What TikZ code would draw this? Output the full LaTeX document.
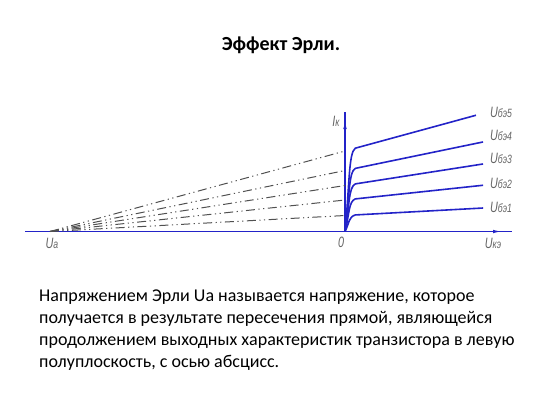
\documentclass[tikz,border=0pt]{standalone}
\usepackage{fontspec}
\setmainfont{Carlito}
\newfontfamily\lblfont{Liberation Sans}
\usetikzlibrary{calc,arrows.meta}

\definecolor{axisblue}{RGB}{35,35,200}
\definecolor{dashgray}{RGB}{80,80,80}
\definecolor{lblgray}{RGB}{100,100,100}

\newcommand{\sml}[1]{{\fontsize{12}{12}\selectfont #1}}

\tikzset{
  axis/.style={axisblue, line width=1.3pt},
  tip/.style={axisblue, line width=1.3pt, -{Latex[length=9pt,width=3.5pt]}},
  curve/.style={axisblue, line width=1.6pt},
  ext/.style={dashgray, line width=1pt, dash pattern=on 9pt off 3.5pt on 1.2pt off 3.5pt on 1.2pt off 3.5pt},
  lbl/.style={lblgray, font=\lblfont\itshape\fontsize{15}{15}\selectfont, inner sep=0pt, xscale=0.72},
  title/.style={font=\bfseries\fontsize{20}{20}\selectfont},
  body/.style={font=\fontsize{18}{22}\selectfont, align=left, inner sep=0pt}
}

\begin{document}
\begin{tikzpicture}[x=1pt,y=-1pt]
\useasboundingbox (0,0) rectangle (541,405);

%% title
\node[title] (head) at (281,45) {Эффект Эрли.};

%% axes
\coordinate (O) at (345,231.5);
\coordinate (Ua) at (50,231.5);
\coordinate (xstart) at (25,231.5);
\coordinate (xend) at (512,231.5);
\coordinate (xtip) at (502,231.5);
\coordinate (yend) at (345,112);
\coordinate (ytip) at (345,120);
\draw[axis] (xstart) -- (xend);
\draw[axis] (O) -- (yend);
\draw[tip] (O) -- (xtip);
\draw[tip] (O) -- (ytip);

\node[lbl] (ik) at (336,121) {I\sml{к}};
\node[lbl] (zero) at (341,242) {0};
\node[lbl] (uke) at (493,243) {U\sml{кэ}};
\node[lbl] (ua) at (52,243) {U\sml{a}};

%% output characteristics and their extensions
\foreach \n/\h/\k/\ly in {1/215.5/1.468/207, 2/200/1.468/183, 3/185.5/1.468/158, 4/170.5/1.468/135, 5/151/1.444/112}{
  \pgfmathsetmacro{\cy}{\h+0.45*(231.5-\h)}
  \coordinate (I\n) at (345,\h);
  \coordinate (F\n) at ($(Ua)!1.035!(I\n)$);
  \coordinate (E\n) at ($(Ua)!\k!(I\n)$);
  \draw[ext] (Ua) -- (I\n);
  \draw[curve] (O) .. controls (349.5,\cy) and (348.5,\h+1.5) .. (F\n) -- (E\n);
  \node[lbl, anchor=west] (u\n) at (490,\ly) {U\sml{бэ\n}};
}

%% text
\node[body, anchor=north west] (txt) at (39,290) {Напряжением Эрли Ua называется напряжение, которое\\
получается в результате пересечения прямой, являющейся\\
продолжением выходных характеристик транзистора в левую\\
полуплоскость, с осью абсцисс.};

\end{tikzpicture}
\end{document}
